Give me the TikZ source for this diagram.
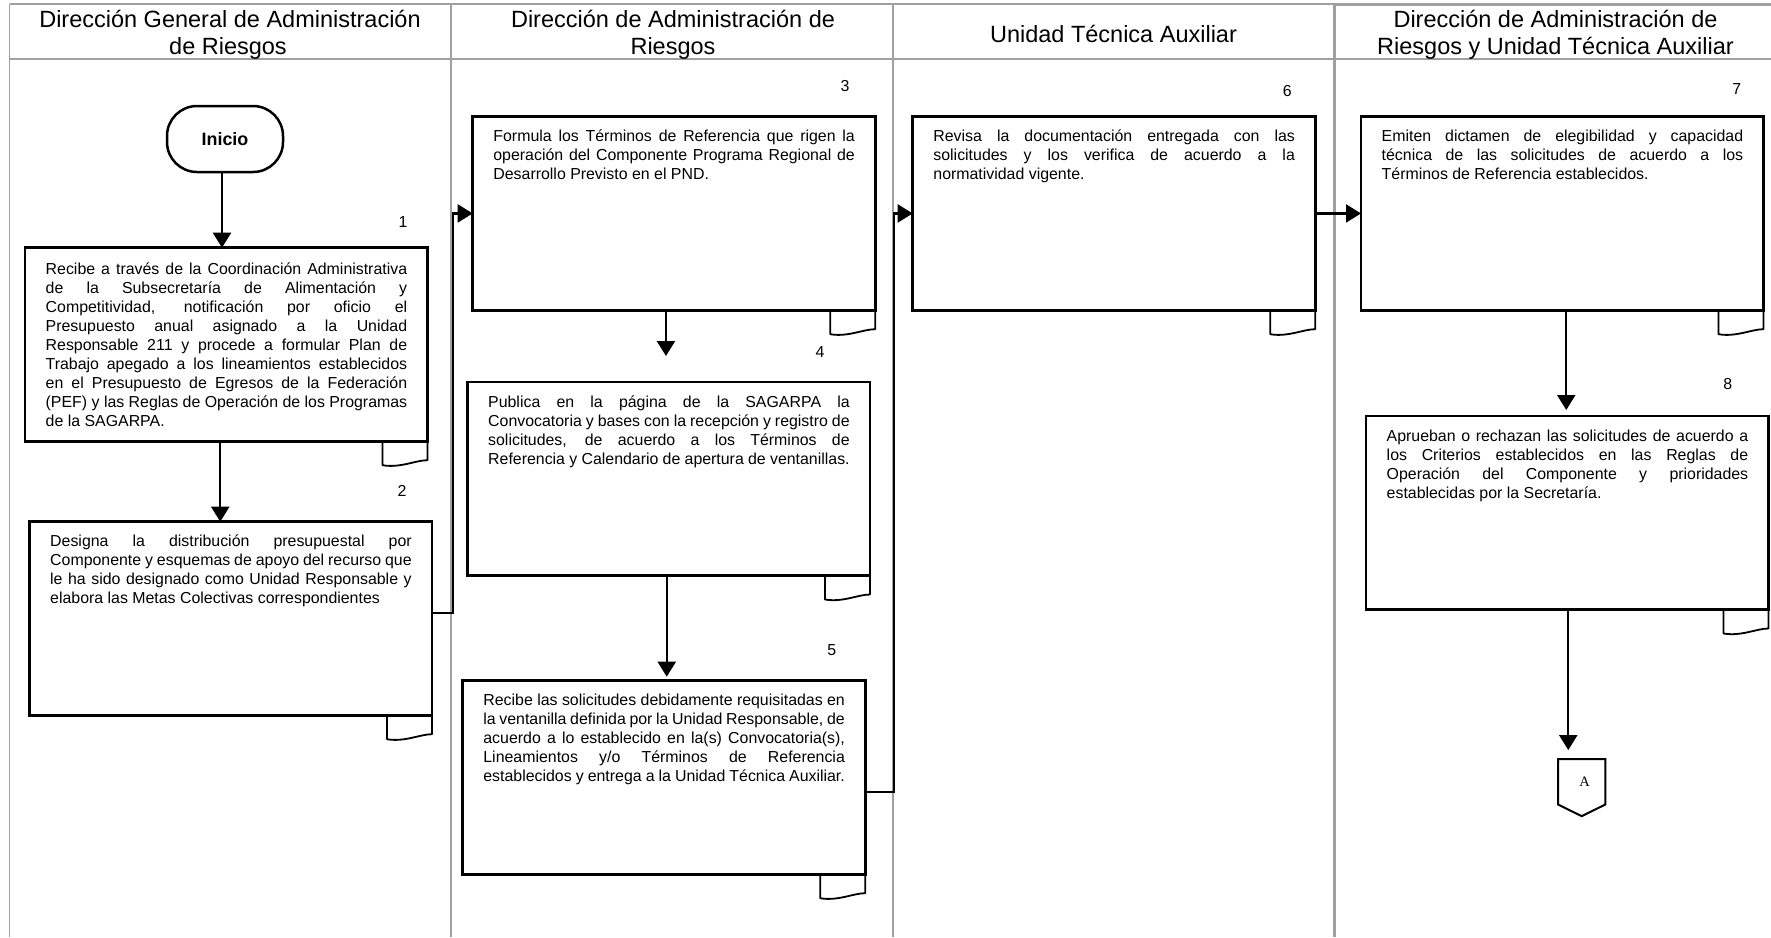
\documentclass[tikz,border=0pt]{standalone}
\usepackage{fontspec}
\setmainfont{Liberation Sans}
\newfontfamily\serifA{Liberation Serif}
\usetikzlibrary{arrows.meta,calc}
\definecolor{lanegray}{RGB}{160,160,160}
\newcommand\mybody{\fontsize{15.9}{19}\selectfont}
\newcommand\myhdr{\fontsize{23.5}{27}\selectfont}
\newcommand\firstln{\rule{0pt}{14.5pt}}
\hyphenpenalty=10000
\exhyphenpenalty=10000
\tolerance=9999
\emergencystretch=10pt
\begin{document}
\begin{tikzpicture}[x=1pt,y=-1pt,
  procbox/.style={draw, line width=2.8pt, rectangle, inner sep=0pt, outer sep=0pt,
    minimum width=402.5pt, minimum height=193.5pt, anchor=north west},
  txt/.style={anchor=north west, inner sep=0pt, outer sep=0pt, text width=361.5pt,
    align=justify, font=\mybody},
  num/.style={inner sep=0pt, font=\mybody},
  flow/.style={line width=2.2pt, -{Triangle[length=15pt,width=18pt]}},
  flapline/.style={line width=1.8pt, line join=round},
  hdr/.style={anchor=base, inner sep=0pt, font=\myhdr},
  lane/.style={draw=lanegray, line width=1.5pt},
  lanethick/.style={draw=lanegray, line width=3pt},
]
\useasboundingbox (0,0) rectangle (1771,937);

% lane grid
\draw[lane] (9.5,4) -- (1334.8,4);
\draw[lane] (9.5,59) -- (1334.8,59);
\draw[lanethick] (1334.8,4.5) -- (1771,4.5);
\draw[lane, line width=2.2pt] (1334.8,59) -- (1771,59);
\draw[lane] (9.5,4) -- (9.5,937);
\draw[lane] (451,4) -- (451,937);
\draw[lane] (893,4) -- (893,937);
\draw[lanethick] (1334.8,3) -- (1334.8,937);

% headers
\node[hdr] (h1a) at (230,27.8) {Dirección General de Administración};
\node[hdr] (h1b) at (228,54.5) {de Riesgos};
\node[hdr] (h2a) at (673,27.8) {Dirección de Administración de};
\node[hdr] (h2b) at (673,54.5) {Riesgos};
\node[hdr] (h3) at (1113.5,42.8) {Unidad Técnica Auxiliar};
\node[hdr] (h4a) at (1555.5,27.8) {Dirección de Administración de};
\node[hdr] (h4b) at (1555.5,54.5) {Riesgos y Unidad Técnica Auxiliar};

% start terminal
\node[draw, line width=2.5pt, rounded corners=30pt, minimum width=116pt,
  minimum height=66pt, inner sep=0pt,
  font=\bfseries\fontsize{17.9}{20}\selectfont] (ini) at (225,139) {Inicio};

% process boxes
\node[procbox] (b1) at (25,247.7) {};
\node[procbox] (b2) at (29.5,521.7) {};
\node[procbox] (b3) at (472.7,116.7) {};
\node[procbox] (b4) at (467.5,382) {};
\node[procbox] (b5) at (462.7,680.7) {};
\node[procbox] (b6) at (912.7,116.7) {};
\node[procbox] (b7) at (1361,116.7) {};
\node[procbox] (b8) at (1366,416) {};

% texts
\node[txt] (t1) at ($(b1.north west)+(20.7,12)$) {\firstln Recibe a través de la Coordinación Administrativa\linebreak de la Subsecretaría de Alimentación y\linebreak Competitividad, notificación por oficio el\linebreak Presupuesto anual asignado a la Unidad\linebreak Responsable 211 y procede a formular Plan de\linebreak Trabajo apegado a los lineamientos establecidos\linebreak en el Presupuesto de Egresos de la Federación\linebreak (PEF) y las Reglas de Operación de los Programas\linebreak de la SAGARPA.};
\node[txt] (t2) at ($(b2.north west)+(20.7,10.5)$) {\firstln Designa la distribución presupuestal por\linebreak Componente y esquemas de apoyo del recurso que\linebreak le ha sido designado como Unidad Responsable y\linebreak elabora las Metas Colectivas correspondientes};
\node[txt] (t3) at ($(b3.north west)+(20.7,10.5)$) {\firstln Formula los Términos de Referencia que rigen la\linebreak operación del Componente Programa Regional de\linebreak Desarrollo Previsto en el PND.};
\node[txt] (t4) at ($(b4.north west)+(20.7,10.5)$) {\firstln Publica en la página de la SAGARPA la\linebreak Convocatoria y bases con la recepción y registro de\linebreak solicitudes, de acuerdo a los Términos de\linebreak Referencia y Calendario de apertura de ventanillas.};
\node[txt] (t5) at ($(b5.north west)+(20.7,10.5)$) {\firstln Recibe las solicitudes debidamente requisitadas en\linebreak la ventanilla definida por la Unidad Responsable, de\linebreak acuerdo a lo establecido en la(s) Convocatoria(s),\linebreak Lineamientos y/o Términos de Referencia\linebreak establecidos y entrega a la Unidad Técnica Auxiliar.};
\node[txt] (t6) at ($(b6.north west)+(20.7,10.5)$) {\firstln Revisa la documentación entregada con las\linebreak solicitudes y los verifica de acuerdo a la\linebreak normatividad vigente.};
\node[txt] (t7) at ($(b7.north west)+(20.7,10.5)$) {\firstln Emiten dictamen de elegibilidad y capacidad\linebreak técnica de las solicitudes de acuerdo a los\linebreak Términos de Referencia establecidos.};
\node[txt] (t8) at ($(b8.north west)+(20.7,10.5)$) {\firstln Aprueban o rechazan las solicitudes de acuerdo a\linebreak los Criterios establecidos en las Reglas de\linebreak Operación del Componente y prioridades\linebreak establecidas por la Secretaría.};

% step numbers
\node[num] (n1) at (403,221.7) {1};
\node[num] (n2) at (402,491) {2};
\node[num] (n3) at (845,86) {3};
\node[num] (n4) at (820,352.3) {4};
\node[num] (n5) at (831.7,650) {5};
\node[num] (n6) at (1287.3,91) {6};
\node[num] (n7) at (1736.7,88.7) {7};
\node[num] (n8) at (1727.7,384.5) {8};

% document flaps
\foreach \b in {b1,b2,b3,b4,b5,b6,b7,b8}{
  \draw[flapline] ($(\b.south east)+(-45,0)$) -- ($(\b.south east)+(-45,24)$)
    .. controls ($(\b.south east)+(-27,27)$) and ($(\b.south east)+(-12,19)$) ..
    ($(\b.south east)+(0,19)$) -- (\b.south east);
}

% off-page connector
\node[inner sep=0pt, minimum width=46.7pt, minimum height=45pt,
  font=\serifA\fontsize{14.5}{16}\selectfont] (offA) at (1581.7,781.8) {\hspace*{6pt}A};
\draw[line width=2pt, line join=miter] (offA.north west) -- (offA.north east) -- (offA.south east)
  -- ($(offA.south)+(0,11.7)$) -- (offA.south west) -- cycle;

% connectors
\coordinate (p0) at ($(ini.south)+(-3,0)$);
\draw[flow] (p0) -- (p0 |- b1.north);
\coordinate (p1) at ($(b1.south)+(-6,0)$);
\draw[flow] (p1) -- (p1 |- b2.north);
\coordinate (p2) at ($(b2.east)+(0,-5.5)$);
\draw[flow] (p2) -- ++(21,0) |- (b3.west);
\coordinate (p3) at ($(b3.south)+(-8,0)$);
\draw[flow, shorten >=26pt] (p3) -- (p3 |- b4.north);
\coordinate (p4) at ($(b4.south)+(-2,0)$);
\draw[flow, shorten >=4pt] (p4) -- (p4 |- b5.north);
\coordinate (p5) at ($(b5.east)+(0,14.5)$);
\draw[flow] (p5) -- ++(29,0) |- (b6.west);
\draw[flow] (b6.east) -- (b7.west);
\coordinate (p7) at ($(b7.south)+(4,0)$);
\draw[flow, shorten >=6pt] (p7) -- (p7 |- b8.north);
\coordinate (p8) at ($(b8.south)+(1,0)$);
\draw[flow, shorten >=9pt] (p8) -- (p8 |- offA.north);
\end{tikzpicture}
\end{document}
